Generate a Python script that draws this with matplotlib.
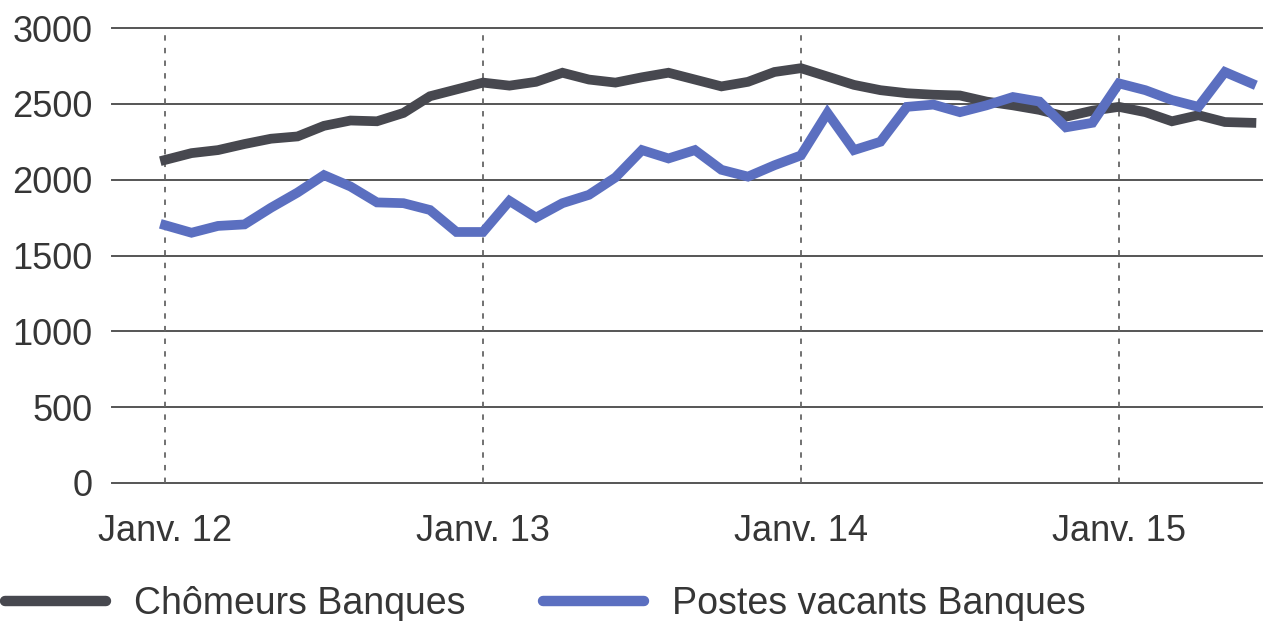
# chomeurs_postes_banques.py
# Chômeurs vs postes vacants, secteur bancaire, janv. 2012 - juin 2015

import numpy as np
import matplotlib.pyplot as plt

plt.rcParams['font.family'] = ['Liberation Sans', 'DejaVu Sans']
plt.rcParams['font.size'] = 26

# ==================== données (mensuelles) ====================
months = np.arange(42)  # janv. 12 -> juin 15
chomeurs = [2130, 2175, 2195, 2235, 2270, 2285, 2355, 2390, 2385, 2440, 2550, 2595,
            2640, 2620, 2645, 2705, 2660, 2640, 2675, 2705, 2660, 2615, 2645, 2710,
            2735, 2680, 2625, 2590, 2570, 2560, 2555, 2515, 2490, 2460, 2415, 2455,
            2480, 2445, 2385, 2425, 2380, 2375]
postes = [1700, 1650, 1695, 1705, 1815, 1915, 2030, 1955, 1850, 1845, 1800, 1655,
          1655, 1860, 1750, 1845, 1900, 2015, 2195, 2140, 2195, 2065, 2020, 2095,
          2160, 2440, 2195, 2250, 2480, 2495, 2445, 2490, 2545, 2515, 2345, 2375,
          2635, 2590, 2525, 2480, 2710, 2635]
tick_pos = [0, 12, 24, 36]
tick_labels = ['Janv. 12', 'Janv. 13', 'Janv. 14', 'Janv. 15']
y_ticks = [0, 500, 1000, 1500, 2000, 2500, 3000]

C_CHOM = '#47484f'
C_POST = '#5b6fc0'
C_TEXT = '#363636'

W, H = 1265, 621
fig = plt.figure(figsize=(W / 100, H / 100), dpi=100)
ax = fig.add_axes([112 / W, 1 - 483 / H, (1262 - 112) / W, (483 - 28) / H])

# grille horizontale + pointillés verticaux aux janvier
for y in y_ticks:
    ax.axhline(y, color='#555555', linewidth=1.4, zorder=1, clip_on=False)
for x in tick_pos:
    ax.axvline(x, color='#666666', linewidth=1.3, linestyle=(0, (3, 4)), zorder=1)

ax.plot(months, chomeurs, color=C_CHOM, linewidth=7, solid_joinstyle='miter',
        label='Chômeurs Banques', zorder=3)
ax.plot(months, postes, color=C_POST, linewidth=7, solid_joinstyle='miter',
        label='Postes vacants Banques', zorder=4)

ax.set_xlim(-2, 41.4)
ax.set_ylim(0, 3000)
ax.set_xticks(tick_pos)
ax.set_xticklabels(tick_labels)
ax.set_yticks(y_ticks)
ax.tick_params(axis='both', length=0, colors=C_TEXT, labelsize=26)
ax.tick_params(axis='y', pad=14)
ax.tick_params(axis='x', pad=22)
for s in ax.spines.values():
    s.set_visible(False)

handles, labels = ax.get_legend_handles_labels()
leg = fig.legend(handles, labels, loc='center left', bbox_to_anchor=(5 / W, 1 - 604 / H),
                 ncol=2, frameon=False, borderpad=0, borderaxespad=0,
                 handlelength=2.7, handletextpad=0.75, columnspacing=2.05, fontsize=27)
for t in leg.get_texts():
    t.set_color(C_TEXT)
for l in leg.get_lines():
    l.set_linewidth(7.5)
    l.set_solid_capstyle('round')

fig.savefig('out.png', dpi=100)
